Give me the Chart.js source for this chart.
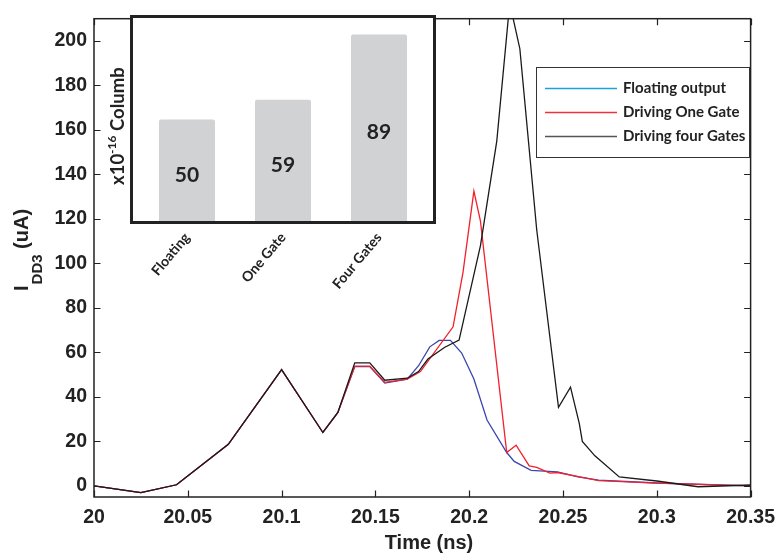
<!DOCTYPE html>
<html>
<head>
<meta charset="utf-8">
<script src="https://cdn.jsdelivr.net/npm/chart.js@4/dist/chart.umd.min.js"></script>
<style>
  html, body { margin: 0; padding: 0; background: #fff; }
  #wrap { position: relative; width: 784px; height: 559px; }
  #main { position: absolute; left: 0; top: 0; }
  #inset { position: absolute; left: 100px; top: 10px; }
</style>
</head>
<body>
<div id="wrap">
  <canvas id="main" width="784" height="559"></canvas>
  <canvas id="inset" width="345" height="300"></canvas>
</div>
<script>
// ---- Data ----
const timeFloating = [20, 20.025, 20.044, 20.0716, 20.1, 20.122, 20.13, 20.139, 20.147, 20.155, 20.167,
  20.173, 20.179, 20.184, 20.19, 20.196, 20.2025, 20.2095, 20.22, 20.224, 20.233, 20.247, 20.258, 20.269, 20.3, 20.35];
const currentFloating = [0, -3, 0.5, 18.7, 52.3, 24, 33, 53.6, 53.6, 46.2, 48,
  54, 62.5, 65.4, 65.4, 59.7, 48, 29.6, 15, 11, 7, 6.3, 4, 2.6, 1.3, 0];

const timeOneGate = [20, 20.025, 20.044, 20.0716, 20.1, 20.122, 20.13, 20.139, 20.147, 20.155, 20.167,
  20.174, 20.1914, 20.1967, 20.2025, 20.206, 20.22, 20.225, 20.232, 20.236, 20.243, 20.247, 20.259, 20.269, 20.3, 20.35];
const currentOneGate = [0, -3, 0.5, 18.7, 52.3, 24, 33, 53.8, 53.8, 46.5, 48,
  51.4, 71.5, 96, 132.5, 119, 15, 18.3, 9, 8.3, 5.7, 6, 4, 2.4, 1.2, 0];

const timeFourGates = [20, 20.025, 20.044, 20.0716, 20.1, 20.122, 20.13, 20.139, 20.147, 20.155, 20.167,
  20.173, 20.178, 20.187, 20.1946, 20.206, 20.2147, 20.2216, 20.227, 20.236, 20.2476, 20.254, 20.2587, 20.2603,
  20.267, 20.28, 20.3, 20.322, 20.35];
const currentFourGates = [0, -3, 0.5, 18.7, 52.3, 24, 33, 55.3, 55.3, 47.5, 48.4,
  51.4, 57, 62.3, 65.5, 108, 155, 217, 196.5, 115, 35.3, 44.4, 28, 20,
  13.5, 4, 2.2, -0.4, 0.4];

const xTicks = [20, 20.05, 20.1, 20.15, 20.2, 20.25, 20.3, 20.35];
const yTicks = [0, 20, 40, 60, 80, 100, 120, 140, 160, 180, 200];

const seriesNames = ['Floating output', 'Driving One Gate', 'Driving four Gates'];

const insetCategories = ['Floating', 'One Gate', 'Four Gates'];
const insetValues = [50, 59, 89];

// ---- Main chart ----
const pts = (t, v) => t.map((x, i) => ({ x: x, y: v[i] }));
const AX = '#222';
const tickFont = { family: '"Liberation Sans", Arial, sans-serif', size: 19.5, weight: 'bold' };

const mainDecor = {
  id: 'mainDecor',
  afterDraw(chart) {
    const ctx = chart.ctx;
    const a = chart.chartArea;
    const xs = chart.scales.x, ys = chart.scales.y;
    ctx.save();
    // frame
    ctx.strokeStyle = AX;
    ctx.lineWidth = 1.5;
    ctx.strokeRect(a.left, a.top, a.right - a.left, a.bottom - a.top);
    // inward ticks
    ctx.lineWidth = 1.2;
    ctx.beginPath();
    const tl = 6.5;
    xs.ticks.forEach(t => {
      const px = Math.round(xs.getPixelForValue(t.value)) + 0.5;
      ctx.moveTo(px, a.bottom); ctx.lineTo(px, a.bottom - tl);
      ctx.moveTo(px, a.top); ctx.lineTo(px, a.top + tl);
    });
    ys.ticks.forEach(t => {
      const py = Math.round(ys.getPixelForValue(t.value)) + 0.5;
      ctx.moveTo(a.left, py); ctx.lineTo(a.left + tl, py);
      ctx.moveTo(a.right, py); ctx.lineTo(a.right - tl, py);
    });
    ctx.stroke();

    // x title
    ctx.fillStyle = AX;
    ctx.font = 'bold 20px "Liberation Sans", Arial, sans-serif';
    ctx.textAlign = 'center';
    ctx.textBaseline = 'alphabetic';
    ctx.fillText('Time (ns)', 429, 549);

    // y title: I_DD3 (uA)
    ctx.save();
    ctx.translate(28, 291);
    ctx.rotate(-Math.PI / 2);
    ctx.textAlign = 'left';
    ctx.font = 'bold 20px "Liberation Sans", Arial, sans-serif';
    ctx.fillText('I', 0, 0);
    let x = ctx.measureText('I').width + 1;
    ctx.font = 'bold 15px "Liberation Sans", Arial, sans-serif';
    ctx.fillText('DD3', x, 14);
    x += ctx.measureText('DD3').width;
    ctx.font = 'bold 20px "Liberation Sans", Arial, sans-serif';
    ctx.fillText(' (uA)', x, 0);
    ctx.restore();

    // legend
    ctx.fillStyle = '#fff';
    ctx.fillRect(536.5, 67.5, 213, 90);
    ctx.strokeStyle = '#333';
    ctx.lineWidth = 1;
    ctx.strokeRect(536.5, 67.5, 213, 90);
    const legColors = ['#1ea0dc', '#f0303a', '#555'];
    const rows = [88, 112, 136];
    ctx.font = 'bold 15px Lato, "Open Sans", sans-serif';
    ctx.textAlign = 'left';
    ctx.textBaseline = 'middle';
    seriesNames.forEach((n, i) => {
      ctx.strokeStyle = legColors[i];
      ctx.lineWidth = 1.3;
      ctx.beginPath();
      ctx.moveTo(545, rows[i] + 0.5); ctx.lineTo(617, rows[i] + 0.5);
      ctx.stroke();
      ctx.fillStyle = AX;
      ctx.fillText(n, 623, rows[i]);
    });
    ctx.restore();
  }
};

new Chart(document.getElementById('main'), {
  type: 'line',
  data: {
    datasets: [
      { label: seriesNames[0], data: pts(timeFloating, currentFloating), borderColor: '#3a46b0', order: 2 },
      { label: seriesNames[1], data: pts(timeOneGate, currentOneGate), borderColor: '#f2202c', order: 1 },
      { label: seriesNames[2], data: pts(timeFourGates, currentFourGates), borderColor: '#1a1a1a', order: 0 }
    ]
  },
  options: {
    responsive: false,
    animation: false,
    devicePixelRatio: 1,
    elements: { point: { radius: 0 }, line: { borderWidth: 1.3, tension: 0 } },
    layout: { padding: { top: 4, right: 30, left: 0, bottom: 0 } },
    plugins: { legend: { display: false }, tooltip: { enabled: false } },
    scales: {
      x: {
        type: 'linear', min: 20, max: 20.35,
        afterBuildTicks: s => { s.ticks = xTicks.map(v => ({ value: v })); },
        afterFit: s => { s.height = 62; },
        grid: { display: false, drawTicks: false },
        border: { display: false },
        ticks: { font: tickFont, color: AX, padding: 9, maxRotation: 0, autoSkip: false,
                 callback: v => String(+Number(v).toFixed(2)) }
      },
      y: {
        type: 'linear', min: -5, max: 210,
        afterBuildTicks: s => { s.ticks = yTicks.map(v => ({ value: v })); },
        afterFit: s => { s.width = 94; },
        grid: { display: false, drawTicks: false },
        border: { display: false },
        ticks: { font: tickFont, color: AX, padding: 7, autoSkip: false }
      }
    }
  },
  plugins: [mainDecor]
});

// ---- Inset bar chart ----
const insetDecor = {
  id: 'insetDecor',
  beforeDraw(chart) {
    const ctx = chart.ctx;
    ctx.save();
    ctx.fillStyle = '#fff';
    ctx.fillRect(30, 5, 306, 208);
    ctx.restore();
  },
  afterDatasetsDraw(chart) {
    const ctx = chart.ctx;
    const meta = chart.getDatasetMeta(0);
    ctx.save();
    ctx.fillStyle = '#222';
    ctx.font = 'bold 21px Lato, "Open Sans", sans-serif';
    ctx.textAlign = 'center';
    ctx.textBaseline = 'middle';
    meta.data.forEach((bar, i) => {
      ctx.fillText(String(insetValues[i]), bar.x, (bar.y + bar.base) / 2 + 1);
    });
    ctx.restore();
  },
  afterDraw(chart) {
    const ctx = chart.ctx;
    ctx.save();
    ctx.strokeStyle = '#222';
    ctx.lineWidth = 3;
    ctx.strokeRect(31.5, 6.5, 303, 206);
    // y title: x10^-16 Columb
    ctx.translate(24, 175);
    ctx.rotate(-Math.PI / 2);
    ctx.fillStyle = '#222';
    ctx.textAlign = 'left';
    ctx.textBaseline = 'alphabetic';
    ctx.font = 'bold 18.5px Lato, "Open Sans", sans-serif';
    ctx.fillText('x10', 0, 0);
    let x = ctx.measureText('x10').width;
    ctx.font = 'bold 12px Lato, "Open Sans", sans-serif';
    ctx.fillText('-16', x, -8);
    x += ctx.measureText('-16').width;
    ctx.font = 'bold 18.5px Lato, "Open Sans", sans-serif';
    ctx.fillText(' Columb', x, 0);
    ctx.restore();
  }
};

new Chart(document.getElementById('inset'), {
  type: 'bar',
  data: {
    labels: insetCategories,
    datasets: [{ data: insetValues, backgroundColor: '#d1d2d4', borderRadius: 2,
                 barPercentage: 0.583, categoryPercentage: 1 }]
  },
  options: {
    responsive: false,
    animation: false,
    devicePixelRatio: 1,
    layout: { padding: { left: 39, right: 18, top: 6.5, bottom: 0 } },
    plugins: { legend: { display: false }, tooltip: { enabled: false } },
    scales: {
      y: { display: false, min: 3.2, max: 97.2 },
      x: {
        afterFit: s => { s.height = 88.5; },
        grid: { display: false, drawTicks: false },
        border: { display: false },
        ticks: { font: { family: 'Lato, "Open Sans", sans-serif', size: 14, weight: 'bold' },
                 color: '#222', minRotation: 50, maxRotation: 50, padding: 8 }
      }
    }
  },
  plugins: [insetDecor]
});
</script>
</body>
</html>
